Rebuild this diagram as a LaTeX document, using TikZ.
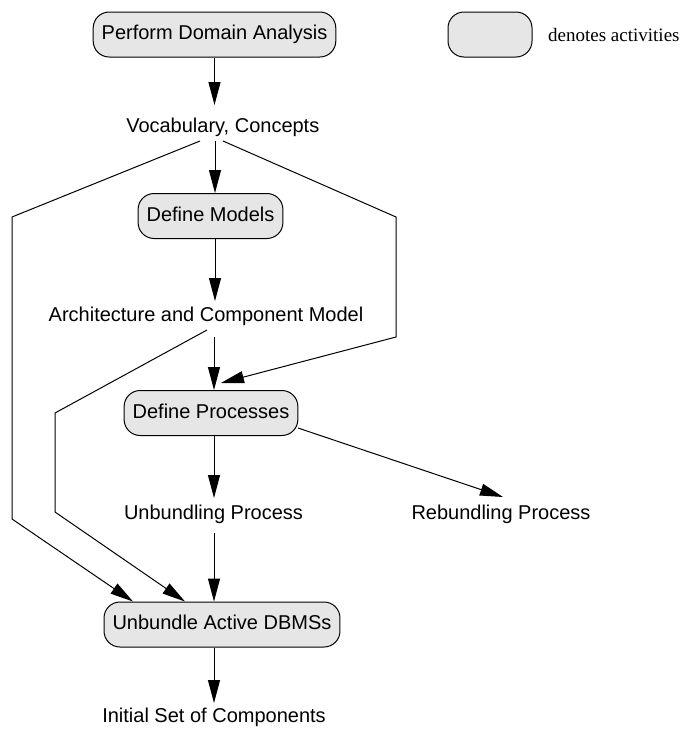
\documentclass[tikz,border=0pt]{standalone}
\usepackage{fontspec}
\setmainfont{Liberation Sans}
\newfontfamily\legendfont{Liberation Serif}
\usetikzlibrary{arrows.meta}
\definecolor{actfill}{HTML}{E6E6E6}
\begin{document}
\begin{tikzpicture}[x=1pt,y=-1pt,
  activity/.style={draw=black, line width=1pt, fill=actfill, rounded corners=16pt,
    minimum height=45pt, inner xsep=8.5pt, inner ysep=0pt,
    text height=14.5pt, text depth=4pt, font=\fontsize{20}{24}\selectfont},
  product/.style={inner sep=0pt, anchor=base, font=\fontsize{20}{24}\selectfont},
  arr/.style={line width=1pt, -{Triangle[length=23pt,width=12pt]}},
  flow/.style={line width=1pt}]
\useasboundingbox (0,0) rectangle (689,729);

% legend
\node[draw=black, line width=1pt, fill=actfill, rounded corners=16pt,
  minimum width=84pt, minimum height=45pt, inner sep=0pt] (legbox) at (490,34.5) {};
\node[inner sep=0pt, anchor=base west, font=\legendfont\fontsize{19}{23}\selectfont]
  (legtext) at (548,41.5) {denotes activities};

% activities
\node[activity] (pda) at (214.5,34.5) {Perform Domain Analysis};
\node[activity] (dm)  at (210.5,216) {Define Models};
\node[activity] (dp)  at (211,413) {Define Processes};
\node[activity] (unb) at (222,624.5) {Unbundle Active DBMSs};

% products
\node[product] (voc)  at (222.8,132.6) {Vocabulary, Concepts};
\node[product] (arch) at (206,321) {Architecture and Component Model};
\node[product] (unp)  at (213.5,519) {Unbundling Process};
\node[product] (rep)  at (501,519) {Rebundling Process};
\node[product] (isc)  at (214,722.5) {Initial Set of Components};

% connection points around the product labels
\coordinate (vocIn)   at (214.5,105);
\coordinate (vocL)    at (200,141);
\coordinate (vocM)    at (215,141);
\coordinate (vocR)    at (223,141);
\coordinate (archIn)  at (215,301);
\coordinate (archL)   at (207,330);
\coordinate (archM)   at (214,337);
\coordinate (unpIn)   at (214,498);
\coordinate (unpOut)  at (214,533);
\coordinate (repIn)   at (503,497);
\coordinate (iscIn)   at (214,703);
\coordinate (dpOut)   at (298,428);

% bends of the long connectors
\coordinate (bL1) at (12,217);
\coordinate (bL2) at (12,519);
\coordinate (bR1) at (396,217);
\coordinate (bR2) at (396,337);
\coordinate (bA1) at (55,413);
\coordinate (bA2) at (55,512);
\coordinate (tipR) at (221,383);
\coordinate (tipL) at (133,0);
\coordinate (tipA) at (185,0);

% main flow
\draw[arr] (pda.south) -- (vocIn);
\draw[arr] (vocM) -- (vocM |- dm.north);
\draw[arr] (vocM |- dm.south) -- (archIn);
\draw[arr] (archM) -- (archM |- dp.north);
\draw[arr] (archM |- dp.south) -- (unpIn);
\draw[arr] (unpOut) -- (unpOut |- unb.north);
\draw[arr] (unpOut |- unb.south) -- (iscIn);
\draw[arr] (dpOut) -- (repIn);

% side connectors
\draw[arr] (vocL) -- (bL1) -- (bL2) -- (unb.north -| tipL);
\draw[arr] (vocR) -- (bR1) -- (bR2) -- (tipR);
\draw[arr] (archL) -- (bA1) -- (bA2) -- (unb.north -| tipA);
\end{tikzpicture}
\end{document}
